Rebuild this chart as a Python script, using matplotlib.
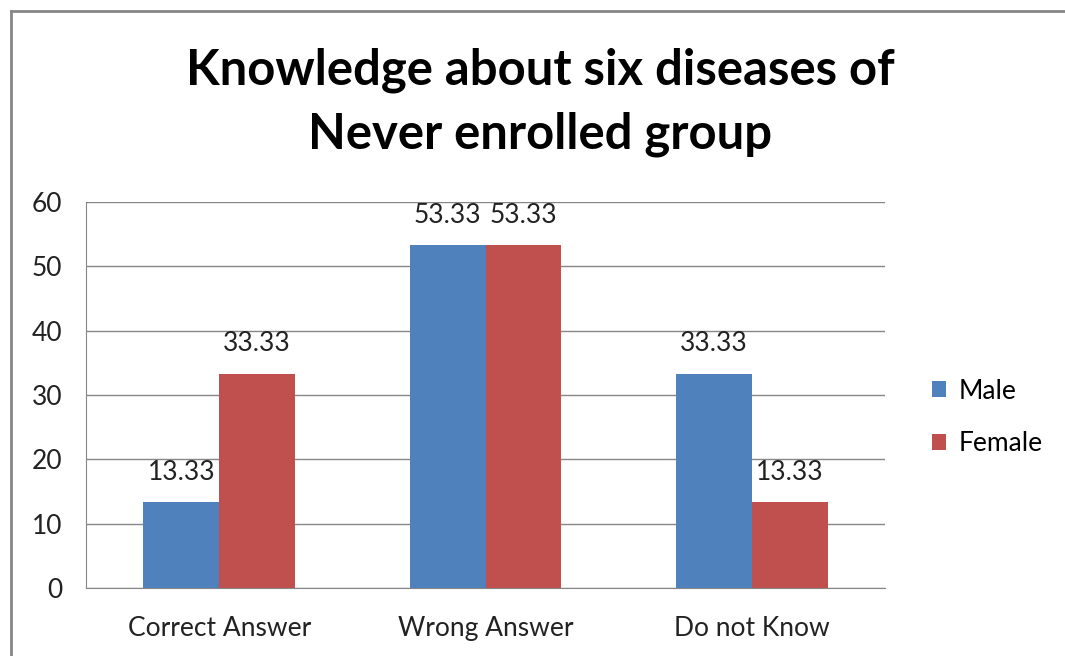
import matplotlib.pyplot as plt
import numpy as np
from matplotlib.lines import Line2D

categories = ['Correct Answer', 'Wrong Answer', 'Do not Know']
male = [13.33, 53.33, 33.33]
female = [33.33, 53.33, 13.33]
yticks = [0, 10, 20, 30, 40, 50, 60]

plt.rcParams['font.family'] = ['Lato', 'DejaVu Sans']

fig = plt.figure(figsize=(10.65, 6.56), dpi=100)
# outer chart frame (only left and top edges fall inside the image)
fx = 10.5 / 1065
fy = 1 - 10.5 / 656
fig.add_artist(Line2D([fx, fx], [0, fy], transform=fig.transFigure, color='#868686', lw=2))
fig.add_artist(Line2D([fx, 1.01], [fy, fy], transform=fig.transFigure, color='#868686', lw=2))

ax = fig.add_axes([86/1065, 1 - 588/656, (885-86)/1065, (588-202)/656])

x = np.arange(len(categories))
w = 0.285
b1 = ax.bar(x - w/2, male, w, color='#4F81BD', label='Male', zorder=3)
b2 = ax.bar(x + w/2, female, w, color='#C0504D', label='Female', zorder=3)

for bars in (b1, b2):
    for r in bars:
        ax.text(r.get_x() + r.get_width()/2, r.get_height() + 4.6, '%.2f' % r.get_height(),
                ha='center', va='center', fontsize=19, color='#222222')

ax.set_xlim(-0.5, 2.5)
ax.set_ylim(0, 60)
ax.set_yticks(yticks)
ax.set_xticks(x)
ax.set_xticklabels(categories)
ax.tick_params(axis='both', length=0, labelsize=19, colors='#222222')
ax.tick_params(axis='x', pad=20)
ax.tick_params(axis='y', pad=17)
ax.grid(axis='y', color='#868686', linewidth=1, zorder=0)
for s in ['top', 'right']:
    ax.spines[s].set_visible(False)
ax.spines['left'].set_color('#868686')
ax.spines['bottom'].set_color('#868686')

fig.text(540/1065, 1 - 102/656, 'Knowledge about six diseases of\nNever enrolled group',
         ha='center', va='center', fontsize=35.3, fontweight='bold', linespacing=1.5)

leg = ax.legend(loc='center left', bbox_to_anchor=(1.029, 0.442), frameon=False,
                fontsize=19, handlelength=0.55, handleheight=0.55, handletextpad=0.45,
                labelspacing=1.05)

fig.savefig('out.png', dpi=100)
